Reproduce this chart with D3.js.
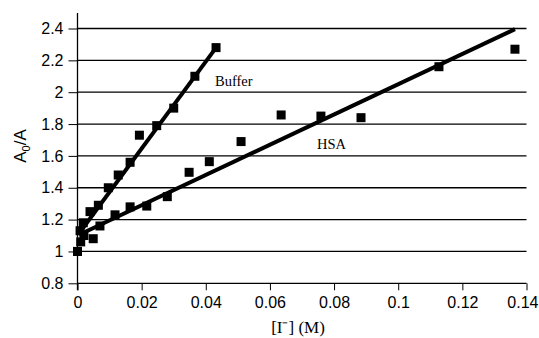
<!DOCTYPE html>
<html><head><meta charset="utf-8">
<script src="https://cdn.jsdelivr.net/npm/d3@7"></script>
<style>body{margin:0;background:#fff}svg{display:block}</style>
</head><body>
<svg id="c" width="539" height="338"></svg>
<script>
const bufferX = [0, 0.0008, 0.0018, 0.0039, 0.0065, 0.0096, 0.0127, 0.0164, 0.0193, 0.0247, 0.030, 0.0366, 0.0432];
const bufferY = [1.0, 1.13, 1.18, 1.25, 1.29, 1.40, 1.48, 1.56, 1.73, 1.79, 1.90, 2.10, 2.28];
const hsaX = [0, 0.001, 0.002, 0.0049, 0.007, 0.0117, 0.0164, 0.0216, 0.028, 0.0348, 0.0411, 0.051, 0.0635, 0.0759, 0.0884, 0.1127, 0.1364];
const hsaY = [1.0, 1.06, 1.10, 1.08, 1.16, 1.23, 1.28, 1.285, 1.344, 1.497, 1.564, 1.69, 1.857, 1.85, 1.84, 2.16, 2.27];
const bufferFit = {intercept: 1.10, slope: 27.3, x0: 0.0008, x1: 0.0435};
const hsaFit = {intercept: 1.10, slope: 9.5, x0: 0.0005, x1: 0.1364};
const xTicks = [0, 0.02, 0.04, 0.06, 0.08, 0.1, 0.12, 0.14];
const yTicks = [0.8, 1, 1.2, 1.4, 1.6, 1.8, 2, 2.2, 2.4];

const svg = d3.select("#c");
const x = d3.scaleLinear().domain([0, 0.14]).range([77.5, 526.5]);
const y = d3.scaleLinear().domain([0.8, 2.4]).range([283.3, 28.5]);
const sans = "Liberation Sans, Arial, sans-serif";
const serif = "Liberation Serif, Times New Roman, serif";

// gridlines
svg.append("g").selectAll("line").data(yTicks.slice(1)).join("line")
  .attr("x1", x(0)).attr("x2", x(0.14))
  .attr("y1", d => y(d)).attr("y2", d => y(d))
  .attr("stroke", "#000").attr("stroke-width", 1.3);

// y axis
const ya = svg.append("g").attr("transform", `translate(${x(0)},0)`)
  .call(d3.axisLeft(y).tickValues(yTicks).tickSize(9).tickPadding(5).tickFormat(d => d3.format("")(d)));
ya.select(".domain").remove();
ya.append("line").attr("x1", 0).attr("x2", 0).attr("y1", 13).attr("y2", y(0.8) + 7).attr("stroke", "#000").attr("stroke-width", 1.3);
ya.selectAll("text").attr("font-family", sans).attr("font-size", 16).attr("fill", "#000");
ya.selectAll(".tick line").attr("stroke", "#000");

// x axis
const xa = svg.append("g").attr("transform", `translate(0,${y(0.8)})`)
  .call(d3.axisBottom(x).tickValues(xTicks).tickSize(7).tickPadding(6).tickFormat(d => d3.format("")(d)));
xa.select(".domain").remove();
xa.append("line").attr("x1", x(0)).attr("x2", x(0.14)).attr("y1", 0).attr("y2", 0).attr("stroke", "#000").attr("stroke-width", 1.3);
xa.selectAll("text").attr("font-family", sans).attr("font-size", 16).attr("fill", "#000");
xa.selectAll(".tick line").attr("stroke", "#000");
// keep the last label inside the frame
xa.selectAll(".tick").filter(d => d === 0.14).select("text")
  .attr("text-anchor", "end").attr("x", 538 - x(0.14));

// fit lines
[bufferFit, hsaFit].forEach(f => {
  svg.append("line")
    .attr("x1", x(f.x0)).attr("y1", y(f.intercept + f.slope * f.x0))
    .attr("x2", x(f.x1)).attr("y2", y(f.intercept + f.slope * f.x1))
    .attr("stroke", "#000").attr("stroke-width", 4);
});

// markers
const s = 9;
function markers(xs, ys) {
  svg.append("g").selectAll("rect").data(xs.map((v, i) => [v, ys[i]])).join("rect")
    .attr("x", d => x(d[0]) - s / 2).attr("y", d => y(d[1]) - s / 2)
    .attr("width", s).attr("height", s).attr("fill", "#000");
}
markers(bufferX, bufferY);
markers(hsaX, hsaY);

// annotations
svg.append("text").attr("x", 215).attr("y", 86).attr("font-family", serif).attr("font-size", 14.5).text("Buffer");
svg.append("text").attr("x", 317).attr("y", 149).attr("font-family", serif).attr("font-size", 14.5).text("HSA");

// axis titles
svg.append("text").attr("x", 298).attr("y", 333).attr("text-anchor", "middle")
  .attr("font-family", serif).attr("font-size", 17).text("[I\u207B] (M)");
const yl = svg.append("text").attr("transform", "translate(26,146) rotate(-90)").attr("text-anchor", "middle")
  .attr("font-family", sans).attr("font-size", 17);
yl.append("tspan").text("A");
yl.append("tspan").attr("font-size", 11).attr("dy", 4).text("0");
yl.append("tspan").attr("dy", -4).text("/A");
</script>
</body></html>
